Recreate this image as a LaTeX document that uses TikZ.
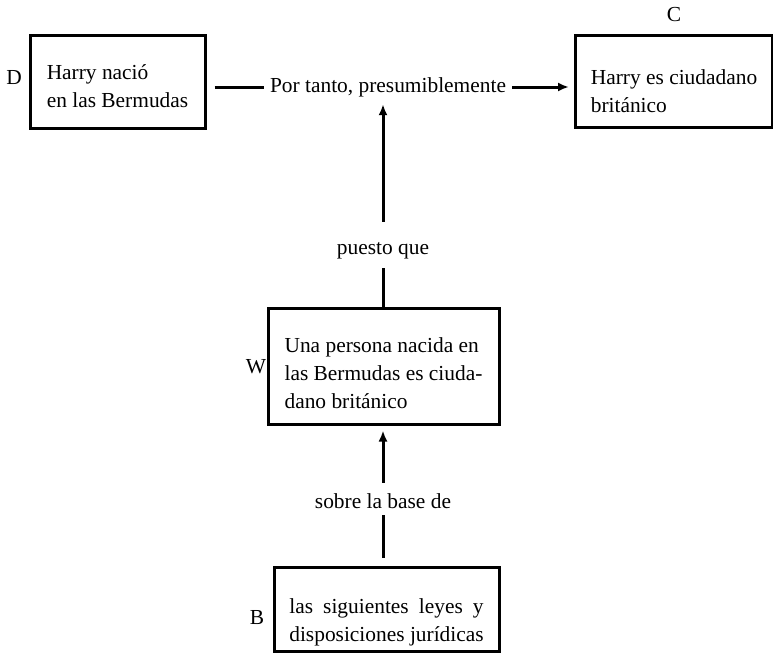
\documentclass[tikz,border=0pt]{standalone}
\usepackage{fontspec}
\setmainfont{Liberation Serif}
\usepackage{calc}
\usetikzlibrary{arrows.meta}
% first line height and last line depth inside the boxes
\newcommand{\boxtop}[1]{\rule{0pt}{#1}}
\newcommand{\boxend}{\rule[-6pt]{0pt}{6pt}}
\begin{document}
\begin{tikzpicture}[x=1pt,y=-1pt,
  every node/.style={font=\fontsize{21.4}{28}\selectfont},
  box/.style={draw,line width=3pt,align=left,inner sep=0pt},
  tag/.style={inner sep=0pt},
  word/.style={inner ysep=0pt,inner xsep=6pt},
  link/.style={line width=3pt},
  tip/.style={link,-{Latex[length=11pt,width=9pt]}}]
\useasboundingbox (0,0) rectangle (773,662);
% boxes
\node[box,minimum width=175pt,minimum height=93pt] (dbox) at (117.5,81.5)
  {\boxtop{29pt}Harry nació\\en las Bermudas\boxend};
\node[box,minimum width=197pt,minimum height=92pt] (cbox) at (674,81)
  {\boxtop{40pt}Harry es ciudadano\\británico\boxend};
\node[box,minimum width=231pt,minimum height=116pt] (wbox) at (383.5,366)
  {\boxtop{34pt}Una persona nacida en\\las Bermudas es ciuda-\\dano británico\boxend};
\node[box,minimum width=225pt,minimum height=84pt] (bbox) at (386.5,609)
  {\boxtop{42pt}\makebox[\widthof{disposiciones jurídicas}][s]{las siguientes leyes y}\\disposiciones jurídicas\boxend};
% letters
\node[tag] (dlab) at (14,78) {D};
\node[tag] (clab) at (674,15) {C};
\node[tag] (wlab) at (256,367) {W};
\node[tag] (blab) at (257,618) {B};
% words on the links
\node[word,text height=22pt,text depth=12pt] (ptanto) at (388,87) {Por tanto, presumiblemente};
\node[word,text height=32pt,text depth=14pt] (pque) at (383,245) {puesto que};
\node[word,text height=25pt,text depth=7pt] (sbase) at (383,499) {sobre la base de};
% links
\draw[link,shorten <=8pt] (dbox.east |- ptanto.west) -- (ptanto.west);
\draw[tip,shorten >=5pt] (ptanto.east) -- (cbox.west |- ptanto.east);
\draw[link] (wbox.north -| pque.south) -- (pque.south);
\draw[tip] (pque.north) -- (ptanto.south -| pque.north);
\draw[link,shorten <=8pt] (bbox.north -| sbase.south) -- (sbase.south);
\draw[tip,shorten >=5pt] (sbase.north) -- (wbox.south -| sbase.north);
\end{tikzpicture}
\end{document}
